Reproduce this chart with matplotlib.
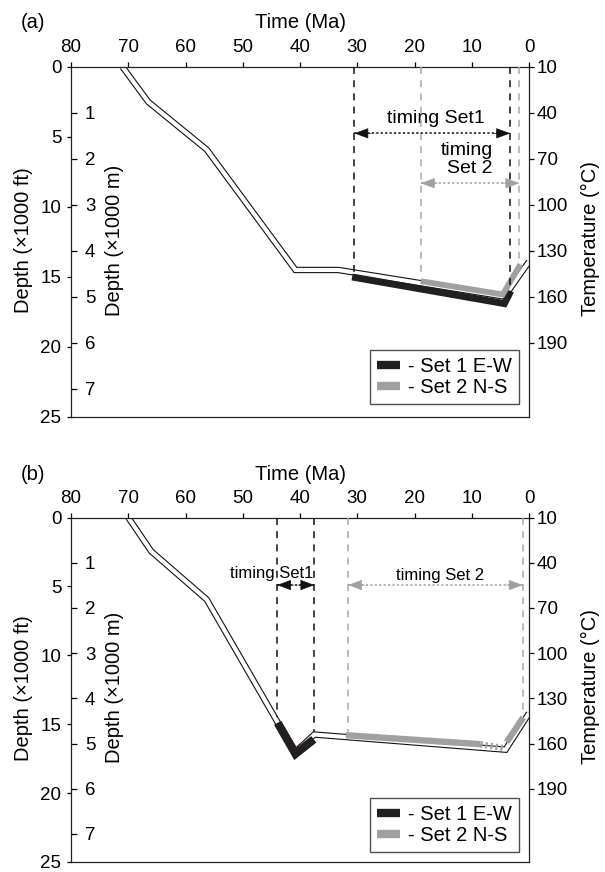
import matplotlib
matplotlib.use('Agg')
import matplotlib.pyplot as plt
from matplotlib.lines import Line2D

plt.rcParams['font.family'] = ['Liberation Sans', 'DejaVu Sans']
plt.rcParams['lines.scale_dashes'] = False

# ---------------- data ----------------
time_ticks = [80, 70, 60, 50, 40, 30, 20, 10, 0]
depth_ft_ticks = [0, 5, 10, 15, 20, 25]
depth_m_ticks = [1, 2, 3, 4, 5, 6, 7]
temp_ticks = [10, 40, 70, 100, 130, 160, 190]

# panel (a)
a_path_time = [71, 66.5, 56.3, 40.8, 33.3, 4.3, 0]
a_path_depth = [0, 2.5, 5.9, 14.5, 14.5, 16.4, 13.9]
a_set1_time = [30.9, 4.3, 3.2]
a_set1_depth = [15.0, 16.9, 16.0]
a_set2_time = [18.9, 4.6, 1.5]
a_set2_depth = [15.3, 16.25, 14.1]
a_black_dash_time = [30.5, 3.3]
a_black_dash_end = [14.7, 16.5]
a_gray_dash_time = [18.9, 1.7]
a_gray_dash_end = [15.1, 13.9]

# panel (b)
b_path_time = [70, 66, 56.3, 44.0, 40.8, 37.5, 4.1, 0]
b_path_depth = [0, 2.45, 5.95, 14.8, 17.0, 15.75, 16.85, 14.2]
b_set1_time = [43.9, 40.8, 37.6]
b_set1_depth = [14.9, 17.15, 16.1]
b_set2_time = [32.0, 8.5]
b_set2_depth = [15.8, 16.45]
b_set2_hatch_time = [8.5, 4.3]
b_set2_hatch_depth = [16.45, 16.75]
b_set2b_time = [3.9, 1.0]
b_set2b_depth = [16.3, 14.5]
b_black_dash_time = [44.0, 37.5]
b_black_dash_end = [14.5, 15.6]
b_gray_dash_time = [31.6, 1.1]
b_gray_dash_end = [15.6, 14.3]

legend_labels = ['- Set 1 E-W', '- Set 2 N-S']

BLACK = '#231f20'
GRAY = '#a0a0a0'
GRAY_DASH = '#a8a8a8'


def ft2km(y):
    return y * 0.3048


def km2ft(y):
    return y / 0.3048


def ft2temp(y):
    return 10 + 30 * y * 0.3048


def temp2ft(t):
    return (t - 10) / (30 * 0.3048)


fig = plt.figure(figsize=(6.05, 8.72), dpi=100)
ax_a = fig.add_axes([0.1174, 0.5218, 0.757, 0.4014])
ax_b = fig.add_axes([0.1174, 0.0115, 0.757, 0.3950])


def setup(ax, letter, ylab):
    ax.set_xlim(80, 0)
    ax.set_ylim(25, 0)
    for s in ax.spines.values():
        s.set_linewidth(0.9)
        s.set_color('#222222')
    ax.xaxis.tick_top()
    ax.set_xticks(time_ticks)
    ax.set_yticks(depth_ft_ticks)
    ax.tick_params(axis='x', which='both', top=True, bottom=False, direction='out',
                   length=3.6, width=0.9, pad=4, labelsize=13.5)
    ax.tick_params(axis='y', which='both', left=True, right=False, direction='out',
                   length=3.0, width=0.9, pad=4, labelsize=13.5)
    ax.text(0.5, ylab, 'Time (Ma)', transform=ax.transAxes, ha='center',
            va='center', fontsize=14.5)
    ax.text(-0.083, ylab, letter, transform=ax.transAxes, ha='center',
            va='center', fontsize=14.5)

    sm = ax.secondary_yaxis('left', functions=(ft2km, km2ft))
    sm.set_yticks(depth_m_ticks)
    sm.tick_params(axis='y', direction='in', length=4.0, width=0.9, pad=-10,
                   labelsize=13.5)
    for lab in sm.get_yticklabels():
        lab.set_ha('left')
    sm.spines['left'].set_visible(False)

    st = ax.secondary_yaxis('right', functions=(ft2temp, temp2ft))
    st.set_yticks(temp_ticks)
    st.tick_params(axis='y', direction='out', length=3.6, width=0.9, pad=2,
                   labelsize=13.5)
    st.spines['right'].set_visible(False)

    ax.text(-0.103, 0.506, 'Depth (\u00d71000 ft)', transform=ax.transAxes,
            rotation=90, ha='center', va='center', fontsize=14.5)
    ax.text(0.094, 0.506, 'Depth (\u00d71000 m)', transform=ax.transAxes,
            rotation=90, ha='center', va='center', fontsize=14.5)
    ax.text(1.135, 0.51, 'Temperature (\u00b0C)', transform=ax.transAxes,
            rotation=90, ha='center', va='center', fontsize=14.5)


def double_line(ax, t, d):
    ax.plot(t, d, color='#111111', lw=4.6, solid_joinstyle='miter',
            solid_capstyle='butt', zorder=2)
    ax.plot(t, d, color='white', lw=3.0, solid_joinstyle='miter',
            solid_capstyle='butt', zorder=2.1)


def band(ax, t, d, color, lw, z=3, **kw):
    ax.plot(t, d, color=color, lw=lw, solid_joinstyle='miter',
            solid_capstyle='butt', zorder=z, **kw)


def vdash(ax, times, ends, color):
    for t, e in zip(times, ends):
        ax.plot([t, t], [0, e], color=color, lw=1.1, dashes=(5, 4.5), zorder=5)


def timing_arrow(ax, t0, t1, y, color):
    ax.plot([t0, t1], [y, y], color=color, lw=1.1, dashes=(1.6, 1.6), zorder=5)
    for tip, off in ((t0, 12), (t1, -12)):
        ax.annotate('', xy=(tip, y), xytext=(off, 0), textcoords='offset points',
                    arrowprops=dict(arrowstyle='-|>,head_length=0.75,head_width=0.28',
                                    color=color, lw=0.5, shrinkA=0, shrinkB=0,
                                    mutation_scale=12),
                    zorder=6)


def legend(ax, y0):
    handles = [Line2D([], [], color=BLACK, lw=6, solid_capstyle='butt'),
               Line2D([], [], color=GRAY, lw=6, solid_capstyle='butt')]
    lg = ax.legend(handles, legend_labels, loc='lower right',
                   bbox_to_anchor=(0.978, y0), borderaxespad=0, fontsize=14.5,
                   frameon=True, fancybox=False, handlelength=1.15,
                   handletextpad=0.4, labelspacing=0.1, borderpad=0.35)
    lg.get_frame().set_edgecolor('#222222')
    lg.get_frame().set_linewidth(1.0)


# ---------------- panel (a) ----------------
setup(ax_a, '(a)', 1.128)
double_line(ax_a, a_path_time, a_path_depth)
band(ax_a, a_set1_time, a_set1_depth, BLACK, 5.0)
band(ax_a, a_set2_time, a_set2_depth, GRAY, 4.2, z=3.5)
vdash(ax_a, a_black_dash_time, a_black_dash_end, '#111111')
vdash(ax_a, a_gray_dash_time, a_gray_dash_end, GRAY_DASH)
timing_arrow(ax_a, a_black_dash_time[0], a_black_dash_time[1], 4.74, '#111111')
timing_arrow(ax_a, a_gray_dash_time[0], a_gray_dash_time[1], 8.3, GRAY)
ax_a.text(16.2, 3.65, 'timing Set1', ha='center', va='center', fontsize=14)
ax_a.text(10.9, 6.6, 'timing\nSet 2', ha='center', va='center', fontsize=14,
          multialignment='right', linespacing=1.05)
legend(ax_a, 0.037)

# ---------------- panel (b) ----------------
setup(ax_b, '(b)', 1.126)
double_line(ax_b, b_path_time, b_path_depth)
band(ax_b, b_set1_time, b_set1_depth, BLACK, 6.0)
band(ax_b, b_set2_time, b_set2_depth, GRAY, 4.6, z=3.5)
band(ax_b, b_set2_hatch_time, b_set2_hatch_depth, GRAY, 4.6, z=3.5,
     dashes=(1.5, 2.2))
band(ax_b, b_set2b_time, b_set2b_depth, GRAY, 4.6, z=3.5)
vdash(ax_b, b_black_dash_time, b_black_dash_end, '#111111')
vdash(ax_b, b_gray_dash_time, b_gray_dash_end, GRAY_DASH)
timing_arrow(ax_b, b_black_dash_time[0], b_black_dash_time[1], 4.9, '#111111')
timing_arrow(ax_b, b_gray_dash_time[0], b_gray_dash_time[1], 4.9, GRAY)
ax_b.text(44.95, 4.06, 'timing Set1', ha='center', va='center', fontsize=12)
ax_b.text(15.5, 4.2, 'timing Set 2', ha='center', va='center', fontsize=12)
legend(ax_b, 0.029)

fig.savefig('out.png', dpi=100)
